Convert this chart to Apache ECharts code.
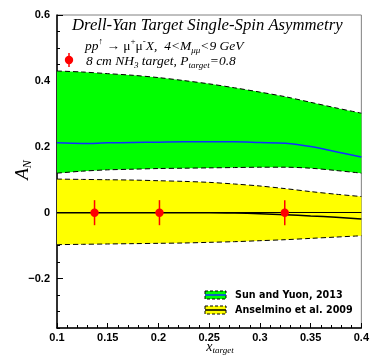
<!DOCTYPE html>
<html>
<head>
<meta charset="utf-8">
<script src="https://cdn.jsdelivr.net/npm/echarts@6/dist/echarts.min.js"></script>
<style>
  html, body { margin: 0; padding: 0; background: #fff; }
  #chart { width: 372px; height: 356px; }
</style>
</head>
<body>
<div id="chart"></div>
<script>
// x_target grid shared by the model curves
const xGrid = [0.1, 0.125, 0.15, 0.175, 0.2, 0.225, 0.25, 0.275, 0.3, 0.325, 0.35, 0.375, 0.4];

// Sun and Yuan, 2013: band edges and central curve
const sunUpper   = [0.430, 0.427, 0.422, 0.417, 0.410, 0.401, 0.391, 0.379, 0.366, 0.352, 0.335, 0.318, 0.302];
const sunLower   = [0.120, 0.126, 0.130, 0.132, 0.134, 0.135, 0.136, 0.137, 0.138, 0.138, 0.135, 0.128, 0.120];
const sunCentral = [0.212, 0.210, 0.212, 0.213, 0.214, 0.215, 0.215, 0.215, 0.213, 0.211, 0.201, 0.185, 0.169];

// Anselmino et al. 2009: band edges and central curve
const ansUpper   = [0.102, 0.101, 0.100, 0.099, 0.097, 0.095, 0.092, 0.087, 0.081, 0.073, 0.064, 0.056, 0.049];
const ansLower   = [-0.097, -0.096, -0.095, -0.094, -0.093, -0.092, -0.090, -0.088, -0.085, -0.082, -0.078, -0.074, -0.070];
const ansCentral = [0, 0, 0, 0, 0, 0, 0, -0.001, -0.003, -0.006, -0.010, -0.014, -0.019];

// Projected measurement points with statistical errors
const pointX   = [0.137, 0.201, 0.3245];
const pointY   = [0, 0, 0];
const pointErr = [0.038, 0.038, 0.038];

// Axis tick values
const yMajorTicks = [-0.2, 0, 0.2, 0.4, 0.6];
const yMinorTicks = [-0.35, -0.3, -0.25, -0.15, -0.1, -0.05, 0.05, 0.1, 0.15, 0.25, 0.3, 0.35, 0.45, 0.5, 0.55];

const GREEN = '#00ff00';
const YELLOW = '#ffff00';
const BLUE = '#1030ff';
const RED = '#ff0000';
const DASH = [5, 3];
const labelFont = '"Liberation Sans", Arial, sans-serif';
const legendFont = '"DejaVu Sans", "Liberation Sans", sans-serif';
const serif = '"Liberation Serif", "Times New Roman", serif';

const pairs = (xs, ys) => xs.map((x, i) => [x, ys[i]]);

// Filled band between two curves, drawn as a single polygon
function bandSeries(upper, lower, color) {
  return {
    type: 'custom',
    z: 1,
    silent: true,
    data: [[xGrid[0], upper[0]]],
    renderItem: function (params, api) {
      const pts = [];
      xGrid.forEach((x, i) => pts.push(api.coord([x, upper[i]])));
      for (let i = xGrid.length - 1; i >= 0; i--) pts.push(api.coord([xGrid[i], lower[i]]));
      return { type: 'polygon', shape: { points: pts }, style: { fill: color, stroke: null } };
    }
  };
}

function lineSeries(ys, color, width, type, z) {
  return {
    type: 'line',
    data: pairs(xGrid, ys),
    symbol: 'none',
    smooth: 0.3,
    z: z,
    silent: true,
    lineStyle: { color: color, width: width, type: type }
  };
}

const chart = echarts.init(document.getElementById('chart'), null, { renderer: 'canvas' });

const option = {
  animation: false,
  grid: { left: 57, right: 9, top: 15, bottom: 28, show: true, borderColor: '#808080', borderWidth: 1 },
  xAxis: {
    type: 'value', min: 0.1, max: 0.4, interval: 0.05,
    axisLine: { show: true, onZero: false, lineStyle: { color: '#000', width: 1.5 } },
    axisTick: { show: true, inside: true, length: 5, lineStyle: { color: '#000' } },
    minorTick: { show: true, splitNumber: 5, length: 3, lineStyle: { color: '#000' } },
    splitLine: { show: false },
    axisLabel: {
      margin: 4, color: '#000', fontFamily: labelFont, fontWeight: 'bold', fontSize: 11,
      formatter: v => String(+v.toFixed(2))
    }
  },
  yAxis: [{
    type: 'value', min: -0.35, max: 0.6,
    axisLine: { show: true, onZero: false, lineStyle: { color: '#000', width: 1.5 } },
    axisTick: { show: true, inside: true, length: 6, customValues: yMajorTicks, lineStyle: { color: '#000' } },
    splitLine: { show: false },
    axisLabel: {
      margin: 7, color: '#000', fontFamily: labelFont, fontWeight: 'bold', fontSize: 11,
      customValues: yMajorTicks,
      formatter: v => { const r = Math.round(v * 10) / 10; return r < 0 ? '\u2212' + String(-r) : String(r); }
    }
  }, {
    type: 'value', min: -0.35, max: 0.6, position: 'left',
    axisLine: { show: false },
    axisTick: { show: true, inside: true, length: 3, customValues: yMinorTicks, lineStyle: { color: '#000' } },
    axisLabel: { show: false },
    splitLine: { show: false }
  }],
  series: [
    bandSeries(sunUpper, sunLower, GREEN),
    bandSeries(ansUpper, ansLower, YELLOW),
    lineSeries(sunUpper, '#000', 1, DASH, 3),
    lineSeries(sunLower, '#000', 1, DASH, 3),
    lineSeries(ansUpper, '#000', 1, DASH, 3),
    lineSeries(ansLower, '#000', 1, DASH, 3),
    lineSeries(sunCentral, BLUE, 1.5, 'solid', 4),
    Object.assign(lineSeries(ansCentral, '#000', 1.5, 'solid', 4), {
      markLine: {
        silent: true, symbol: 'none', label: { show: false },
        lineStyle: { color: '#000', width: 1.2, type: 'solid' },
        data: [{ yAxis: 0 }]
      }
    }),
    {
      type: 'custom',
      z: 6,
      silent: true,
      data: pointX.map((x, i) => [x, pointY[i], pointErr[i]]),
      renderItem: function (params, api) {
        const x = api.value(0), y = api.value(1), e = api.value(2);
        const c = api.coord([x, y]);
        const hi = api.coord([x, y + e]);
        const lo = api.coord([x, y - e]);
        return {
          type: 'group',
          children: [
            { type: 'line', shape: { x1: c[0], y1: hi[1], x2: c[0], y2: lo[1] }, style: { stroke: RED, lineWidth: 1.5 } },
            { type: 'circle', shape: { cx: c[0], cy: c[1], r: 4.2 }, style: { fill: RED } }
          ]
        };
      }
    }
  ],
  graphic: [
    // plot title
    {
      type: 'text', x: 72, y: 26, z: 10,
      style: { text: 'Drell-Yan Target Single-Spin Asymmetry', font: 'italic 16.7px ' + serif, fill: '#000', verticalAlign: 'middle' }
    },
    {
      type: 'text', x: 85, y: 46, z: 10,
      style: {
        text: '{i|pp}{sup|\u2191}{n| \u2192 \u03bc}{sup|+}{n|\u03bc}{sup|-}{i|X,  4<M}{sub|\u03bc\u03bc}{i|<9 GeV}',
        verticalAlign: 'middle',
        rich: {
          i: { font: 'italic 13.5px ' + serif, fill: '#000', lineHeight: 18 },
          n: { font: '13.5px ' + serif, fill: '#000', lineHeight: 18 },
          sup: { font: '9px ' + serif, fill: '#000', lineHeight: 10, verticalAlign: 'top' },
          sub: { font: 'italic 9px ' + serif, fill: '#000', lineHeight: 10, verticalAlign: 'bottom' }
        }
      }
    },
    {
      type: 'text', x: 86, y: 61, z: 10,
      style: {
        text: '{i|8 cm NH}{sub|3}{i| target, P}{sub|target}{i|=0.8}',
        verticalAlign: 'middle',
        rich: {
          i: { font: 'italic 13.5px ' + serif, fill: '#000', lineHeight: 18 },
          sub: { font: 'italic 9px ' + serif, fill: '#000', lineHeight: 10, verticalAlign: 'bottom' }
        }
      }
    },
    // marker sample for the measurement points
    { type: 'line', z: 10, shape: { x1: 69, y1: 53, x2: 69, y2: 67 }, style: { stroke: RED, lineWidth: 1.5 } },
    { type: 'circle', z: 10, shape: { cx: 69, cy: 60, r: 4.2 }, style: { fill: RED } },
    // y axis title
    {
      type: 'text', x: 23, y: 170, rotation: Math.PI / 2, z: 10,
      style: {
        text: '{a|A}{s|N}', align: 'center', verticalAlign: 'middle',
        rich: {
          a: { font: 'italic 19px ' + serif, fill: '#000', lineHeight: 22 },
          s: { font: 'italic 12px ' + serif, fill: '#000', lineHeight: 12, verticalAlign: 'bottom' }
        }
      }
    },
    // x axis title
    {
      type: 'text', x: 220, y: 347, z: 10,
      style: {
        text: '{x|x}{s|target}', align: 'center', verticalAlign: 'middle',
        rich: {
          x: { font: 'italic 14px ' + serif, fill: '#000', lineHeight: 16 },
          s: { font: 'italic 9px ' + serif, fill: '#000', lineHeight: 9, verticalAlign: 'bottom' }
        }
      }
    },
    // legend
    { type: 'rect', z: 10, shape: { x: 205, y: 291, width: 21, height: 8 }, style: { fill: GREEN, stroke: '#000', lineWidth: 1, lineDash: [3, 2] } },
    { type: 'line', z: 11, shape: { x1: 205, y1: 295, x2: 226, y2: 295 }, style: { stroke: BLUE, lineWidth: 1.5 } },
    { type: 'text', z: 10, x: 235, y: 295, style: { text: 'Sun and Yuon, 2013', font: 'bold 9.6px ' + legendFont, fill: '#000', verticalAlign: 'middle' } },
    { type: 'rect', z: 10, shape: { x: 205, y: 306, width: 21, height: 8 }, style: { fill: YELLOW, stroke: '#000', lineWidth: 1, lineDash: [3, 2] } },
    { type: 'line', z: 11, shape: { x1: 205, y1: 310, x2: 226, y2: 310 }, style: { stroke: '#000', lineWidth: 1.5 } },
    { type: 'text', z: 10, x: 235, y: 310, style: { text: 'Anselmino et al. 2009', font: 'bold 9.6px ' + legendFont, fill: '#000', verticalAlign: 'middle' } }
  ]
};

chart.setOption(option);
</script>
</body>
</html>
